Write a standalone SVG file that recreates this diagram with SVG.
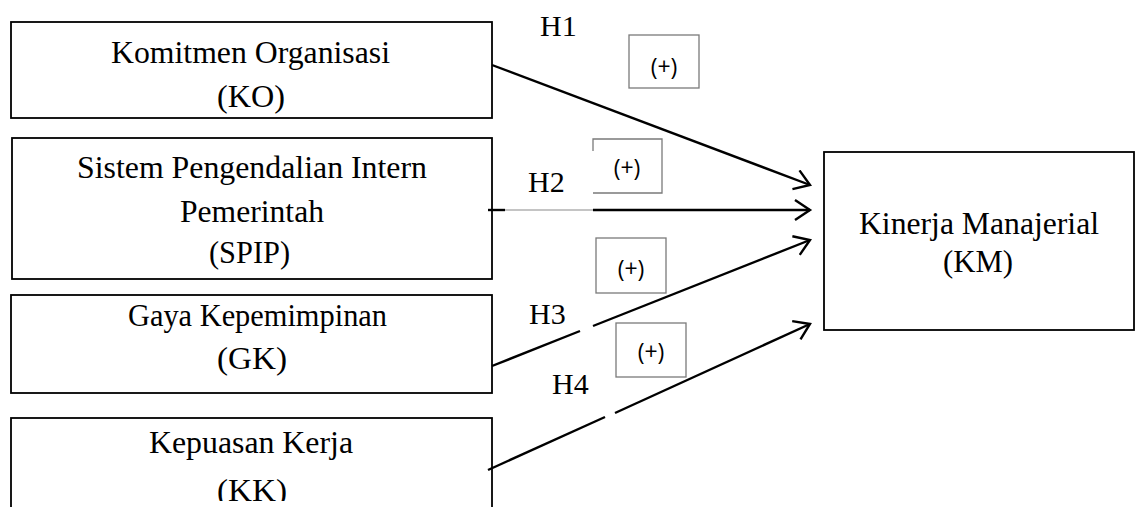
<svg xmlns="http://www.w3.org/2000/svg" width="1136" height="507" viewBox="0 0 1136 507">
<defs>
<style>
.box{fill:#fff;stroke:#000;stroke-width:1.8}
.t{font-family:"Liberation Serif","Times New Roman",serif;font-size:31px;fill:#000}
.h{font-family:"Liberation Serif","Times New Roman",serif;font-size:30px;fill:#000}
.pb{fill:none;stroke:#7a7a7a;stroke-width:1.3}
.p{font-family:"Open Sans","Liberation Sans",sans-serif;font-size:23px;fill:#000;text-anchor:middle}
.ln{fill:none;stroke:#000;stroke-width:2.4}
.thin{fill:none;stroke:#8a8a8a;stroke-width:1.2}
</style>
<marker id="ah" markerUnits="userSpaceOnUse" markerWidth="24" markerHeight="24" refX="16" refY="11" orient="auto">
<path d="M1,1 L16,11 L1,21" fill="none" stroke="#000" stroke-width="2.4"/>
</marker>
<clipPath id="kkclip"><rect x="0" y="0" width="1136" height="501"/></clipPath>
</defs>
<rect width="1136" height="507" fill="#fff"/>

<g id="KO">
<rect class="box" x="11" y="22" width="481" height="96"/>
<text class="t" x="111" y="63" textLength="279" lengthAdjust="spacingAndGlyphs">Komitmen Organisasi</text>
<text class="t" x="217" y="107" textLength="68" lengthAdjust="spacingAndGlyphs">(KO)</text>
</g>

<g id="SPIP">
<rect class="box" x="12" y="138" width="480" height="141"/>
<text class="t" x="77" y="178" textLength="350" lengthAdjust="spacingAndGlyphs">Sistem Pengendalian Intern</text>
<text class="t" x="180" y="222" textLength="144" lengthAdjust="spacingAndGlyphs">Pemerintah</text>
<text class="t" x="209" y="263" textLength="81" lengthAdjust="spacingAndGlyphs">(SPIP)</text>
</g>

<g id="GK">
<rect class="box" x="11" y="295" width="481" height="98"/>
<text class="t" x="128" y="326" textLength="259" lengthAdjust="spacingAndGlyphs">Gaya Kepemimpinan</text>
<text class="t" x="217" y="369" textLength="70" lengthAdjust="spacingAndGlyphs">(GK)</text>
</g>

<g id="KK">
<rect class="box" x="11" y="418" width="481" height="120"/>
<text class="t" x="149" y="453" textLength="204" lengthAdjust="spacingAndGlyphs">Kepuasan Kerja</text>
<text class="t" x="217" y="501" textLength="70" lengthAdjust="spacingAndGlyphs" clip-path="url(#kkclip)">(KK)</text>
</g>

<g id="KM">
<rect class="box" x="824" y="152" width="310" height="178"/>
<text class="t" x="859" y="234" textLength="240" lengthAdjust="spacingAndGlyphs">Kinerja Manajerial</text>
<text class="t" x="943" y="272" textLength="70" lengthAdjust="spacingAndGlyphs">(KM)</text>
</g>

<g id="connectors">
<line class="ln" x1="492" y1="65" x2="810" y2="185" marker-end="url(#ah)"/>
<line class="ln" x1="488" y1="210" x2="505" y2="210"/>
<line class="thin" x1="505" y1="210" x2="593" y2="210"/>
<line class="ln" x1="593" y1="210" x2="810" y2="210" marker-end="url(#ah)"/>
<line class="ln" x1="492" y1="366" x2="580" y2="331"/>
<line class="ln" x1="593" y1="326" x2="810" y2="240" marker-end="url(#ah)"/>
<line class="ln" x1="488" y1="470" x2="605" y2="417"/>
<line class="ln" x1="615" y1="413" x2="810" y2="324" marker-end="url(#ah)"/>
</g>

<g id="labels">
<text class="h" x="540" y="36">H1</text>
<text class="h" x="528" y="192">H2</text>
<text class="h" x="529" y="324">H3</text>
<text class="h" x="552" y="394">H4</text>
</g>

<g id="signs">
<rect class="pb" x="629" y="35" width="70" height="53"/>
<text class="p" x="664" y="75">(+)</text>
<path class="pb" d="M593,151 V139 H662 V193 H593"/>
<text class="p" x="627" y="176">(+)</text>
<rect class="pb" x="596" y="238" width="70" height="55"/>
<text class="p" x="631" y="277">(+)</text>
<rect class="pb" x="616" y="323" width="70" height="54"/>
<text class="p" x="651" y="360">(+)</text>
</g>
</svg>
